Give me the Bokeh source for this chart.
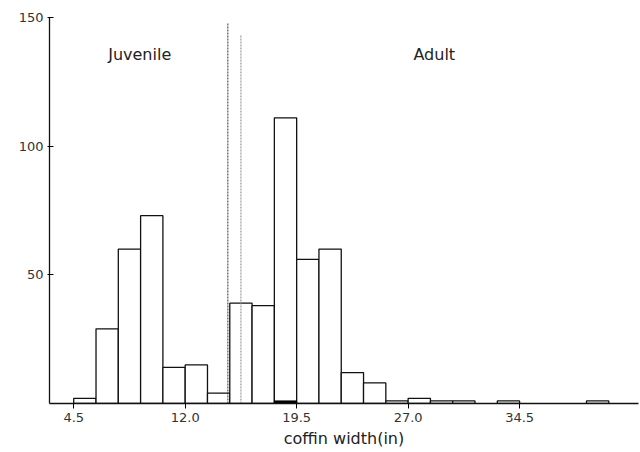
from bokeh.plotting import figure
from bokeh.models import FixedTicker, Range1d, ColumnDataSource
from bokeh.core.properties import value
from bokeh.embed import file_html
from bokeh.resources import INLINE

# ---- data ----
bin_width = 1.5
bin_starts = [4.5, 6.0, 7.5, 9.0, 10.5, 12.0, 13.5, 15.0, 16.5, 18.0, 19.5, 21.0,
              22.5, 24.0, 25.5, 27.0, 28.5, 30.0, 31.5, 33.0, 34.5, 36.0, 37.5, 39.0]
counts = [2, 29, 60, 73, 14, 15, 4, 39, 38, 111, 56, 60,
          12, 8, 1, 2, 1, 1, 0, 1, 0, 0, 0, 1]
marked_starts = [18.0]
marked_counts = [1]
divider_x = [14.87, 15.75]
divider_bottom = [0, 0]
divider_top = [148, 143]
divider_colors = ["#333333", "#888888"]
x_ticks = [4.5, 12.0, 19.5, 27.0, 34.5]
x_tick_labels = ["4.5", "12.0", "19.5", "27.0", "34.5"]
y_ticks = [50, 100, 150]
group_labels = ["Juvenile", "Adult"]
group_x = [8.94, 28.76]
group_y = [135.5, 135.5]

FONT = "DejaVu Sans"

p = figure(width=640, height=452, output_backend="svg", toolbar_location=None,
           x_range=Range1d(2.87, 42.5), y_range=Range1d(0, 150),
           min_border_left=49, min_border_right=2, min_border_top=17, min_border_bottom=49)
p.outline_line_color = None
p.grid.visible = False

src = ColumnDataSource(dict(
    left=[s for s, c in zip(bin_starts, counts) if c > 0],
    right=[s + bin_width for s, c in zip(bin_starts, counts) if c > 0],
    top=[c for c in counts if c > 0],
))
p.quad(left="left", right="right", top="top", bottom=0, source=src,
       fill_color="white", line_color="#111111", line_width=1.3)

p.quad(left=marked_starts, right=[s + bin_width for s in marked_starts],
       top=marked_counts, bottom=0, fill_color="black", line_color="black", line_width=1)

for xv, b, t, c in zip(divider_x, divider_bottom, divider_top, divider_colors):
    p.segment(x0=[xv], y0=[b], x1=[xv], y1=[t], line_color=c, line_dash="2 1", line_width=1)

p.text(x=group_x, y=group_y, text=group_labels, text_font=value(FONT),
       text_font_size="16px", text_align="center", text_baseline="middle", text_color="#222222")

# axes
xa = p.xaxis[0]
xa.ticker = FixedTicker(ticks=x_ticks)
xa.major_label_overrides = {t: l for t, l in zip(x_ticks, x_tick_labels)}
xa.minor_tick_line_color = None
xa.major_tick_out = 5
xa.major_tick_in = 0
xa.major_label_standoff = 4
xa.major_label_text_font = FONT
xa.major_label_text_font_size = "13px"
xa.major_label_text_color = "#333333"
xa.axis_label = "coffin width(in)"
xa.axis_label_text_font = FONT
xa.axis_label_text_font_size = "16px"
xa.axis_label_text_font_style = "normal"
xa.axis_label_text_color = "#222222"
xa.axis_label_standoff = 4
xa.axis_line_width = 1.3
xa.axis_line_color = "#111111"

ya = p.yaxis[0]
ya.ticker = FixedTicker(ticks=y_ticks)
ya.minor_tick_line_color = None
ya.major_tick_out = 2
ya.major_tick_in = 4
ya.major_label_standoff = 4
ya.major_label_text_font = FONT
ya.major_label_text_font_size = "13px"
ya.major_label_text_color = "#333333"
ya.axis_line_width = 1.3
ya.axis_line_color = "#111111"

open("out.html", "w").write(file_html(p, INLINE))
